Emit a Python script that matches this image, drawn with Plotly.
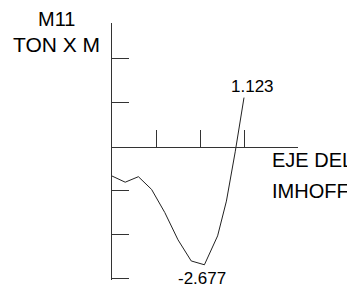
import plotly.graph_objects as go

# Data (ton x m along the Imhoff axis)
x_pos = [0.0, 0.3, 0.6, 0.9, 1.2, 1.5, 1.8, 2.1, 2.4, 2.6, 2.8, 3.0]
m11 = [-0.66, -0.80, -0.675, -0.965, -1.49, -2.11, -2.59, -2.677, -2.02, -1.23, -0.11, 1.123]
y_ticks = [-3, -2, -1, 1, 2]
x_ticks = [1, 2, 3]

font = "Liberation Sans, Arial, sans-serif"
ink = "#333333"

y_min, y_max = -3.023, 2.818
x_min, x_max = 0.0, 4.227

# page body adds an 8px offset; plot area target in window px: left 112, right 298, top 23, bottom 280
OFF = 8
W, H = 355 - OFF, 288 - OFF
L, R, T, B = 112 - OFF, 355 - 298, 23 - OFF, 288 - 280

fig = go.Figure()
fig.add_trace(go.Scatter(x=x_pos, y=m11, mode="lines",
                         line=dict(color="#222222", width=1), hoverinfo="skip"))

i_min = m11.index(min(m11))
i_max = len(m11) - 1
tf = dict(size=20, color="black", family=font)
tf2 = dict(size=21, color="black", family=font)
nf = dict(size=17, color="black", family=font)
annotations = [
    dict(x=x_pos[i_max], y=m11[i_max], text=f"{m11[i_max]:.3f}", showarrow=False,
         xshift=8, yshift=11, font=nf),
    dict(x=x_pos[i_min], y=m11[i_min], text=f"{m11[i_min]:.3f}", showarrow=False,
         xshift=-2, yshift=-14, font=nf),
    dict(xref="paper", yref="paper", x=0, y=1, text="M11", showarrow=False,
         xanchor="center", yanchor="middle", xshift=56.5 - 112, yshift=23 - 19, font=tf),
    dict(xref="paper", yref="paper", x=0, y=1, text="TON X M", showarrow=False,
         xanchor="center", yanchor="middle", xshift=56.5 - 112, yshift=23 - 44.5, font=tf2),
    dict(x=x_max, y=0, text="EJE DEL", showarrow=False, xanchor="left", yanchor="middle",
         xshift=270 - 298, yshift=147 - 160, font=tf),
    dict(x=x_max, y=0, text="IMHOFF", showarrow=False, xanchor="left", yanchor="middle",
         xshift=270 - 298, yshift=147 - 191.5, font=tf),
]

fig.update_layout(
    width=W, height=H,
    margin=dict(l=L, r=R, t=T, b=B),
    paper_bgcolor="white", plot_bgcolor="white",
    showlegend=False,
    annotations=annotations,
    xaxis=dict(range=[x_min, x_max], showgrid=False, zeroline=False,
               showline=True, linecolor=ink, linewidth=1,
               ticks="inside", tickvals=x_ticks, ticklen=17, tickcolor=ink, tickwidth=1,
               showticklabels=False, anchor="free",
               position=(0 - y_min) / (y_max - y_min)),
    yaxis=dict(range=[y_min, y_max], showgrid=False, zeroline=False,
               showline=True, linecolor=ink, linewidth=1,
               ticks="inside", tickvals=y_ticks, ticklen=17, tickcolor=ink, tickwidth=1,
               showticklabels=False),
)

fig.write_html("out.html")
